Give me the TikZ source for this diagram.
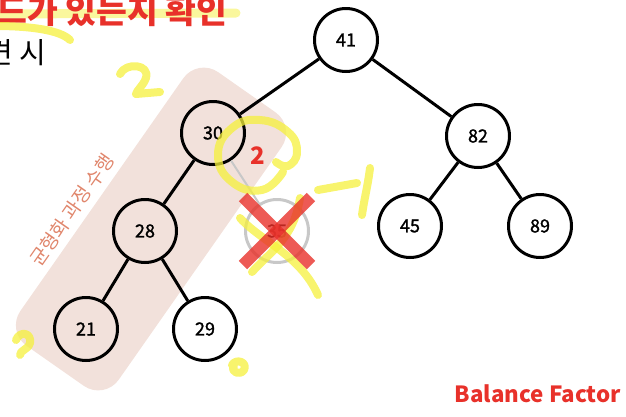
\documentclass[tikz,border=0pt]{standalone}
\usepackage{fontspec}
\setmainfont{Noto Sans CJK KR}
\newfontfamily\keyfont{Noto Sans CJK KR}[FakeBold=1.5]
\definecolor{bfred}{HTML}{E8312A}
\definecolor{bandpink}{HTML}{F2E1DB}
\definecolor{notepink}{HTML}{E0866C}
\definecolor{penyellow}{HTML}{F5F03C}
\definecolor{fadegray}{HTML}{C8C8C8}

\begin{document}
\begin{tikzpicture}[
    x=1pt, y=-1pt,
    key/.style={circle, draw=black, line width=3pt, minimum size=63pt, inner sep=0pt, font=\keyfont\fontsize{18}{18}\selectfont},
    link/.style={line width=3pt},
    pen/.style={draw=penyellow, line width=8pt, line cap=round, line join=round, opacity=0.75},
    cross/.style={draw=bfred, line width=12pt, opacity=0.8}
]
    \useasboundingbox (0,0) rectangle (626,416);

    % 위쪽 설명 (잘린 글)
    \draw[pen, line width=9pt, opacity=0.5] (-5,14) -- (236,13);
    \node[anchor=base west, inner sep=0pt, text=bfred, font=\bfseries\fontsize{33.5}{33.5}\selectfont] (check) at (-4,23) {드가 있는지 확인};
    \node[anchor=base west, inner sep=0pt, font=\fontsize{29}{29}\selectfont] (found) at (-14,63) {견 시};

    % 균형화 영역
    \node[fill=bandpink, rounded corners=25pt, minimum width=334pt, minimum height=120pt, inner sep=0pt, rotate=55] (band) at (151,229) {};
    \node[text=notepink, rotate=55, font=\fontsize{19}{19}\selectfont] (note) at (72,210) {균형화 과정 수행};

    % 노드
    \node[key] (k41) at (346,40) {41};
    \node[key] (k30) at (213,133) {30};
    \node[key] (k82) at (478,136) {82};
    \node[key] (k28) at (145,231) {28};
    \node[key, draw=fadegray] (k35) at (277,231) {35};
    \node[key] (k45) at (410,226) {45};
    \node[key] (k89) at (540,226) {89};
    \node[key] (k21) at (86,329) {21};
    \node[key] (k29) at (205,329) {29};

    % 간선
    \draw[link] (k41) -- (k30);
    \draw[link] (k41) -- (k82);
    \draw[link] (k30) -- (k28);
    \draw[link, fadegray, line width=2pt] (k30) -- (k35);
    \draw[link] (k82) -- (k45);
    \draw[link] (k82) -- (k89);
    \draw[link] (k28) -- (k21);
    \draw[link] (k28) -- (k29);

    % 형광펜 메모
    \draw[pen] (-5,26) .. controls (30,26) and (60,30) .. (70,40);
    \draw[pen] (120,74) .. controls (126,62) and (150,64) .. (146,78) .. controls (143,86) and (137,90) .. (136,94) -- (160,92);
    \draw[pen] plot[smooth, tension=0.8] coordinates {(283,172) (262,190) (232,182) (218,155) (232,128) (260,120) (288,132) (297,152) (288,166) (276,162)};
    \draw[pen] (318,190) -- (357,183);
    \draw[pen] (370,168) .. controls (368,185) and (364,200) .. (362,215);
    \draw[pen] (252,272) .. controls (270,252) and (294,238) .. (300,198);
    \draw[pen] (240,218) .. controls (262,242) and (300,255) .. (318,295);
    \draw[pen] (16,340) .. controls (20,330) and (32,333) .. (30,343) .. controls (28,350) and (20,350) .. (20,355);
    \draw[pen] (232,365) .. controls (236,358) and (248,362) .. (244,370) .. controls (240,376) and (230,372) .. (234,366);

    % 삭제 표시
    \draw[cross] ([shift={(-34,-34)}]k35.center) -- ([shift={(34,34)}]k35.center);
    \draw[cross] ([shift={(34,-34)}]k35.center) -- ([shift={(-34,34)}]k35.center);

    % 균형 인수
    \node[text=bfred, font=\bfseries\fontsize{24}{24}\selectfont] (bf30) at (258,156) {2};
    \node[anchor=base east, inner sep=0pt, text=bfred, font=\bfseries\fontsize{22.3}{22.3}\selectfont] (bf) at (621,402) {Balance Factor};
\end{tikzpicture}
\end{document}
